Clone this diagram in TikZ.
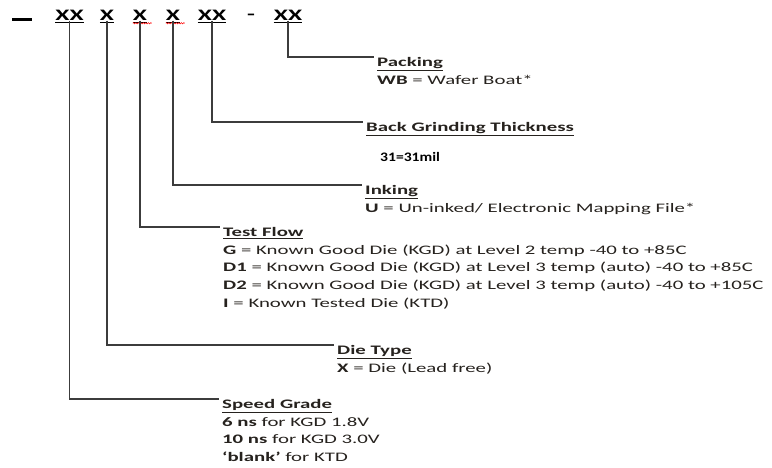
\documentclass[tikz,border=0pt]{standalone}
\usepackage{fontspec}
\setmainfont{Carlito}[FakeStretch=1.6]
\newfontfamily\plainfont{Carlito}[FakeStretch=1.2]
\usepackage{tikz}
\usetikzlibrary{decorations.pathmorphing}
\definecolor{inkclr}{RGB}{38,34,30}
\definecolor{wireclr}{RGB}{60,60,60}
\newcommand{\hd}[1]{\textbf{\underline{#1}}}

\begin{document}
\begin{tikzpicture}[x=1pt, y=-1pt,
    code/.style={anchor=base, inner sep=0pt, text=black,
      font=\fontsize{16}{16}\selectfont\bfseries,
      append after command={([yshift=-1.5pt]\tikzlastnode.south west) edge[uline] ([yshift=-1.5pt]\tikzlastnode.south east)}},
    uline/.style={draw=black, line width=1.2pt},
    desc/.style={anchor=north west, inner xsep=3pt, inner ysep=0pt, align=left,
      text=inkclr, font=\fontsize{13}{17.7}\selectfont},
    wire/.style={draw=wireclr, line width=1.5pt},
    squig/.style={draw=red, line width=0.5pt, decorate,
      decoration={zigzag, segment length=2.5pt, amplitude=0.7pt}}]
  \useasboundingbox (0,0) rectangle (772,468);
  % part number
  \node[fill=black, inner sep=0pt, minimum width=20pt, minimum height=3pt] (lead) at (22,20) {};
  \node[code] (speedx) at (69.5,20.5) {XX};
  \node[code] (diex) at (107,20.5) {X};
  \node[code] (flowx) at (140,20.5) {X};
  \node[code] (inkx) at (173,20.5) {X};
  \node[code] (grindx) at (212,20.5) {XX};
  \node[anchor=base, inner sep=0pt, font=\fontsize{16}{16}\selectfont\bfseries] (hyph) at (251,19.5) {-};
  \node[code] (packx) at (288,20.5) {XX};
  \draw[squig] ([yshift=-2.5pt]flowx.south west) -- ++(19,0);
  \draw[squig] ([yshift=-2.5pt]inkx.south west) -- ++(19,0);
  % fields
  \node[desc] (pack) at (374,57) {\hd{Packing}\\\textbf{WB} = Wafer Boat*};
  \node[desc] (grind) at (363,122) {\hd{Back Grinding Thickness}\\[12pt]
    \hspace*{14pt}{\plainfont\bfseries\color{black}31=31mil}};
  \node[desc] (ink) at (362,185) {\hd{Inking}\\\textbf{U} = Un-inked/ Electronic Mapping File*};
  \node[desc] (flow) at (220,227) {\hd{Test Flow}\\
    \textbf{G} = Known Good Die (KGD) at Level 2 temp -40 to +85C\\
    \textbf{D1} = Known Good Die (KGD) at Level 3 temp (auto) -40 to +85C\\
    \textbf{D2} = Known Good Die (KGD) at Level 3 temp (auto) -40 to +105C\\
    \textbf{I} = Known Tested Die (KTD)};
  \node[desc] (die) at (334,345) {\hd{Die Type}\\\textbf{X} = Die (Lead free)};
  \node[desc] (speed) at (219,399) {\hd{Speed Grade}\\
    \textbf{6 ns} for KGD 1.8V\\
    \textbf{10 ns} for KGD 3.0V\\
    \textbf{‘blank’} for KTD};
  % connectors
  \draw[wire] (packx.south) |- (pack.north west);
  \draw[wire] (grindx.south) |- (grind.north west);
  \draw[wire] (inkx.south) |- (ink.north west);
  \draw[wire] (flowx.south) |- (flow.north west);
  \draw[wire] (diex.south) |- (die.north west);
  \draw[wire] (speedx.south) |- (speed.north west);
\end{tikzpicture}
\end{document}
